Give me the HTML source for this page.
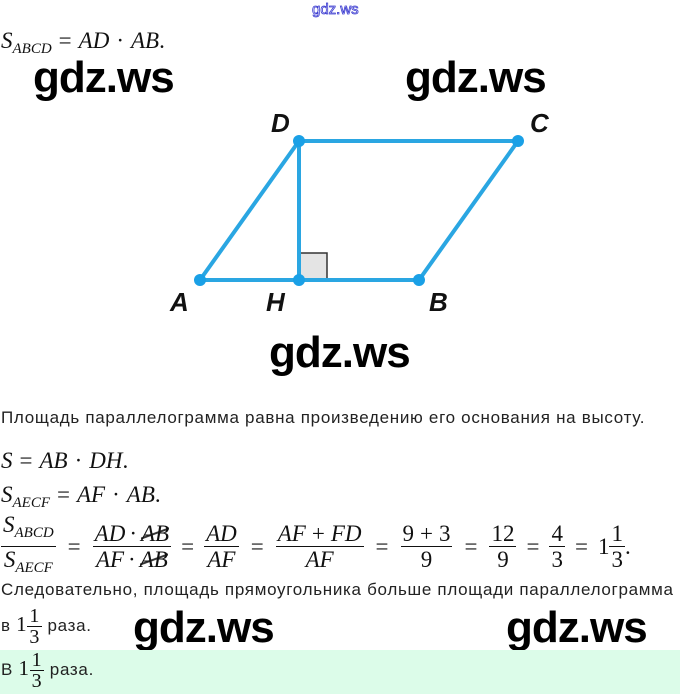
<!DOCTYPE html>
<html><head><meta charset="utf-8"><style>
body{margin:0;width:680px;height:694px;background:#fff;position:relative;overflow:hidden;font-family:"Liberation Sans",sans-serif;color:#222}
.a{position:absolute;white-space:nowrap}
.m{font-family:"Liberation Serif",serif;font-style:italic;font-size:23px;color:#111}
.r{font-style:normal}
.o{font-style:normal;margin:0 7px}
.w{font-family:"Liberation Sans",sans-serif;font-weight:bold;font-size:44px;color:#000;letter-spacing:-1px}
.t{font-size:17px;letter-spacing:0.7px;color:#222}
.fr{display:inline-block;vertical-align:middle;text-align:center}
.fr span{display:block;line-height:25px;padding:0 2px}
.fr .n{border-bottom:1px solid #111}
sub{font-size:15px;vertical-align:-5px}
.x{background:linear-gradient(160deg,transparent 46%,#333 48%,#333 52%,transparent 54%)}
.L{font-family:"Liberation Sans",sans-serif;font-weight:bold;font-style:italic;font-size:26px;fill:#111}
.eq{display:flex;align-items:center}
</style></head><body>
<div class="a" style="left:312px;top:1px;font-size:15px;color:#fff;-webkit-text-stroke:0.8px #3a3ad0">gdz.ws</div>
<div class="a m" style="left:1px;top:28px">S<sub>ABCD</sub><span class="o">=</span>AD<span class="o">·</span>AB<span class="r">.</span></div>
<div class="a w" style="left:33px;top:53px">gdz.ws</div>
<div class="a w" style="left:405px;top:53px">gdz.ws</div>
<svg class="a" style="left:0;top:0" width="680" height="330">
<rect x="300" y="253" width="27" height="26" fill="#e4e4e4" stroke="#333" stroke-width="1.5"/>
<g stroke="#2aa6e2" stroke-width="4" fill="none">
<polygon points="200,280 419,280 518,141 299,141"/>
<line x1="299" y1="141" x2="299" y2="280"/>
</g>
<g fill="#1aa0e6"><circle cx="200" cy="280" r="6"/><circle cx="299" cy="280" r="6"/><circle cx="419" cy="280" r="6"/><circle cx="299" cy="141" r="6"/><circle cx="518" cy="141" r="6"/></g>
<text class="L" x="271" y="132">D</text><text class="L" x="530" y="132">C</text>
<text class="L" x="170" y="311">A</text><text class="L" x="266" y="311">H</text><text class="L" x="429" y="311">B</text>
</svg>
<div class="a w" style="left:269px;top:328px">gdz.ws</div>
<div class="a t" style="left:1px;top:408px">Площадь параллелограмма равна произведению его основания на высоту.</div>
<div class="a m" style="left:1px;top:448px">S<span class="o">=</span>AB<span class="o">·</span>DH<span class="r">.</span></div>
<div class="a m" style="left:1px;top:482px">S<sub>AECF</sub><span class="o">=</span>AF<span class="o">·</span>AB<span class="r">.</span></div>
<div class="a m eq" style="left:1px;top:512px">
<span class="fr"><span class="n">S<sub>ABCD</sub></span><span>S<sub>AECF</sub></span></span><span class="o" style="margin:0 12px">=</span>
<span class="fr"><span class="n">AD<span class="r" style="display:inline;padding:0;margin:0 4px">·</span><span class="x" style="display:inline;padding:0">AB</span></span><span>AF<span class="r" style="display:inline;padding:0;margin:0 4px">·</span><span class="x" style="display:inline;padding:0">AB</span></span></span><span class="o" style="margin:0 10px">=</span>
<span class="fr"><span class="n">AD</span><span>AF</span></span><span class="o" style="margin:0 12px">=</span>
<span class="fr"><span class="n">AF<span class="r" style="display:inline;padding:0;margin:0 6px">+</span>FD</span><span>AF</span></span><span class="o" style="margin:0 12px">=</span>
<span class="fr r"><span class="n">9<span style="display:inline;padding:0;margin:0 6px">+</span>3</span><span>9</span></span><span class="o" style="margin:0 12px">=</span>
<span class="fr r"><span class="n">12</span><span>9</span></span><span class="o" style="margin:0 10px">=</span>
<span class="fr r"><span class="n">4</span><span>3</span></span><span class="o" style="margin:0 10px">=</span><span class="r">1</span><span class="fr r"><span class="n">1</span><span>3</span></span><span class="r">.</span>
</div>
<div class="a t" style="left:1px;top:580px">Следовательно, площадь прямоугольника больше площади параллелограмма</div>
<div class="a t" style="left:1px;top:606px;line-height:22px">в <span class="m r" style="font-size:21px">1</span><span class="fr m r" style="font-size:20px"><span style="line-height:20px">1</span><span style="border-top:1px solid #111;line-height:20px">3</span></span> раза.</div>
<div class="a w" style="left:133px;top:603px">gdz.ws</div>
<div class="a w" style="left:506px;top:603px">gdz.ws</div>
<div class="a" style="left:0;top:650px;width:680px;height:44px;background:#dcfce9"></div>
<div class="a t" style="left:1px;top:650px;line-height:22px">В <span class="m r" style="font-size:21px">1</span><span class="fr m r" style="font-size:20px"><span style="line-height:20px">1</span><span style="border-top:1px solid #111;line-height:20px">3</span></span> раза.</div>
</body></html>
